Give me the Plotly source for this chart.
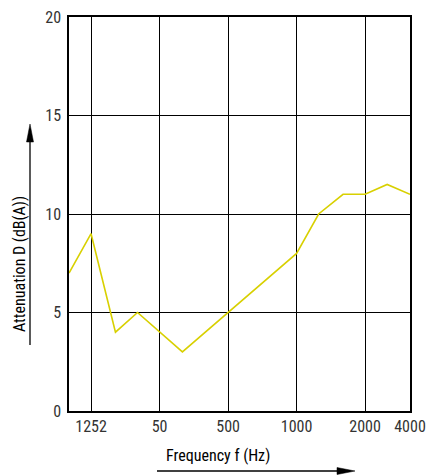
import plotly.graph_objects as go

freq_hz = [100, 125, 160, 200, 315, 1000, 1250, 1600, 2000, 2500, 3150]
attenuation_db = [7, 9, 4, 5, 3, 8, 10, 11, 11, 11.5, 11]

x_tick_vals = [125, 250, 500, 1000, 2000, 3150]
x_tick_text = ["1252", "50", "500", "1000", "2000", "4000"]
y_tick_vals = [0, 5, 10, 15, 20]

FONT = "Liberation Sans Narrow, Arial Narrow, Roboto Condensed, Liberation Sans, sans-serif"

fig = go.Figure()
fig.add_trace(go.Scatter(
    x=freq_hz, y=attenuation_db, mode="lines",
    line=dict(color="#d8d000", width=1.6),
    showlegend=False, hoverinfo="skip",
))

L, R, T, B = 69, 17, 17, 64
W, H = 427, 475
pw, ph = W - L - R, H - T - B

def px(x):
    return (x - L) / pw

def py(y):
    return (H - B - y) / ph

fig.update_layout(
    width=W, height=H,
    margin=dict(l=L, r=R, t=T, b=B, autoexpand=False),
    paper_bgcolor="white", plot_bgcolor="white",
    font=dict(family=FONT, size=16, color="#333333"),
    xaxis=dict(
        type="log", range=[2, 3.49831], automargin=False,
        tickvals=x_tick_vals, ticktext=x_tick_text,
        showgrid=True, gridcolor="black", gridwidth=1.3,
        showline=True, linecolor="black", linewidth=1.5, mirror=True,
        ticks="", zeroline=False,
    ),
    yaxis=dict(
        range=[0, 20], tickvals=y_tick_vals, automargin=False,
        showgrid=True, gridcolor="black", gridwidth=1.3,
        showline=True, linecolor="black", linewidth=1.5, mirror=True,
        ticks="outside", ticklen=3, tickcolor="rgba(0,0,0,0)",
        zeroline=False,
    ),
    annotations=[
        dict(text="Attenuation D (dB(A))", xref="paper", yref="paper",
             x=px(19), y=py(264), showarrow=False, textangle=-90,
             font=dict(family=FONT, size=16, color="black"),
             xanchor="center", yanchor="middle"),
        dict(text="Frequency f (Hz)", xref="paper", yref="paper",
             x=px(218), y=py(455), showarrow=False,
             font=dict(family=FONT, size=16, color="black"),
             xanchor="center", yanchor="middle"),
    ],
    shapes=[
        # y arrow
        dict(type="line", xref="paper", yref="paper",
             x0=px(30), x1=px(30), y0=py(345), y1=py(140),
             line=dict(color="black", width=1.3)),
        dict(type="path", xref="paper", yref="paper",
             path=f"M {px(30)} {py(124)} L {px(26.5)} {py(142)} L {px(33.5)} {py(142)} Z",
             fillcolor="black", line=dict(color="black", width=0.5)),
        # x arrow
        dict(type="line", xref="paper", yref="paper",
             x0=px(157), x1=px(340), y0=py(471), y1=py(471),
             line=dict(color="black", width=1.3)),
        dict(type="path", xref="paper", yref="paper",
             path=f"M {px(355)} {py(471)} L {px(337)} {py(467.5)} L {px(337)} {py(474.5)} Z",
             fillcolor="black", line=dict(color="black", width=0.5)),
    ],
)

fig.write_html(
    "out.html",
    config={"displayModeBar": False},
    post_script="document.body.style.margin='0';document.body.style.padding='0';document.body.style.overflow='hidden';",
)
